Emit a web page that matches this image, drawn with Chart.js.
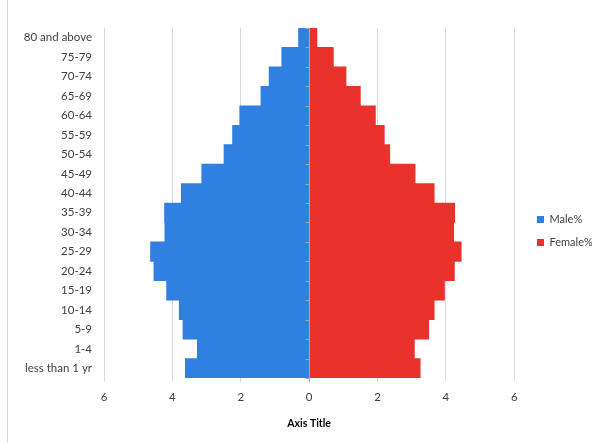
<!DOCTYPE html>
<html>
<head>
<meta charset="utf-8">
<script src="https://cdn.jsdelivr.net/npm/chart.js@4"></script>
<style>
  body { margin: 0; background: #fff; }
  #wrap { width: 598px; height: 443px; position: relative; }
</style>
</head>
<body>
<div id="wrap"><canvas id="myChart" width="598" height="443"></canvas></div>
<script>
// age groups, youngest first (drawn bottom-up)
const ageGroups = ['less than 1 yr', '1-4', '5-9', '10-14', '15-19', '20-24', '25-29', '30-34', '35-39',
    '40-44', '45-49', '50-54', '55-59', '60-64', '65-69', '70-74', '75-79', '80 and above'];
const malePct = [3.62, 3.27, 3.69, 3.80, 4.17, 4.54, 4.64, 4.22, 4.23,
    3.74, 3.14, 2.49, 2.24, 2.03, 1.41, 1.17, 0.80, 0.31];
const femalePct = [3.25, 3.08, 3.50, 3.66, 3.96, 4.25, 4.45, 4.23, 4.26,
    3.66, 3.10, 2.36, 2.20, 1.94, 1.50, 1.08, 0.71, 0.23];
const xTicks = [-6, -4, -2, 0, 2, 4, 6];

const ctx = document.getElementById('myChart');

// thin frame line on the left edge, tick marks on the zero axis, legend nudge
const extras = {
    id: 'extras',
    afterLayout(chart) {
        chart.legend.left = 525;
    },
    beforeDraw(chart) {
        const c = chart.ctx;
        c.save();
        c.strokeStyle = '#d4d4d4';
        c.lineWidth = 1;
        c.beginPath();
        c.moveTo(7.5, 0);
        c.lineTo(7.5, chart.height);
        c.stroke();
        c.restore();
    },
    afterDatasetsDraw(chart) {
        const c = chart.ctx;
        const area = chart.chartArea;
        const x0 = Math.round(chart.scales.x.getPixelForValue(0)) + 0.5;
        const n = ageGroups.length;
        c.save();
        c.strokeStyle = '#a6a6a6';
        c.lineWidth = 1;
        c.beginPath();
        c.moveTo(x0, area.top);
        c.lineTo(x0, area.bottom);
        for (let i = 0; i <= n; i++) {
            const yy = Math.round(area.bottom - i * (area.bottom - area.top) / n) + 0.5;
            c.moveTo(x0 - 4, yy);
            c.lineTo(x0, yy);
        }
        c.stroke();
        c.restore();
    }
};

new Chart(ctx, {
    type: 'bar',
    data: {
        labels: ageGroups,
        datasets: [{
            label: 'Male%',
            data: malePct.map((v) => -v),
            backgroundColor: '#2f80e0',
            barPercentage: 1,
            categoryPercentage: 1
        }, {
            label: 'Female%',
            data: femalePct,
            backgroundColor: '#e9322c',
            barPercentage: 1,
            categoryPercentage: 1
        }]
    },
    options: {
        indexAxis: 'y',
        responsive: false,
        animation: false,
        layout: { padding: { top: 28, left: 0, right: 6, bottom: 9 } },
        plugins: {
            tooltip: { enabled: false },
            legend: {
                position: 'right',
                labels: {
                    boxWidth: 7,
                    boxHeight: 7,
                    padding: 12,
                    color: '#404040',
                    font: { family: 'Lato', size: 11 }
                }
            }
        },
        scales: {
            x: {
                stacked: true,
                min: -6,
                max: 6,
                afterBuildTicks: (s) => { s.ticks = xTicks.map((v) => ({ value: v })); },
                afterFit: (s) => { s.height = 56; },
                grid: {
                    color: (c) => c.tick && c.tick.value === 0 ? '#a6a6a6' : '#dadada',
                    tickLength: 4,
                    drawTicks: true
                },
                border: { display: false },
                ticks: {
                    color: '#404040',
                    padding: 8,
                    font: { family: 'Lato', size: 11.5 },
                    callback: (v) => Math.abs(v)
                },
                title: {
                    display: true,
                    text: 'Axis Title',
                    color: '#000',
                    padding: { top: 6, bottom: 4 },
                    font: { family: 'Lato', size: 10.5, weight: 'bold' }
                }
            },
            y: {
                stacked: true,
                reverse: true,
                afterFit: (s) => { s.width = 104; },
                grid: { display: false, drawTicks: false },
                border: { display: false },
                ticks: {
                    color: '#404040',
                    padding: 12,
                    autoSkip: false,
                    font: { family: 'Lato', size: 11.5 }
                }
            }
        }
    },
    plugins: [extras]
});
</script>
</body>
</html>
